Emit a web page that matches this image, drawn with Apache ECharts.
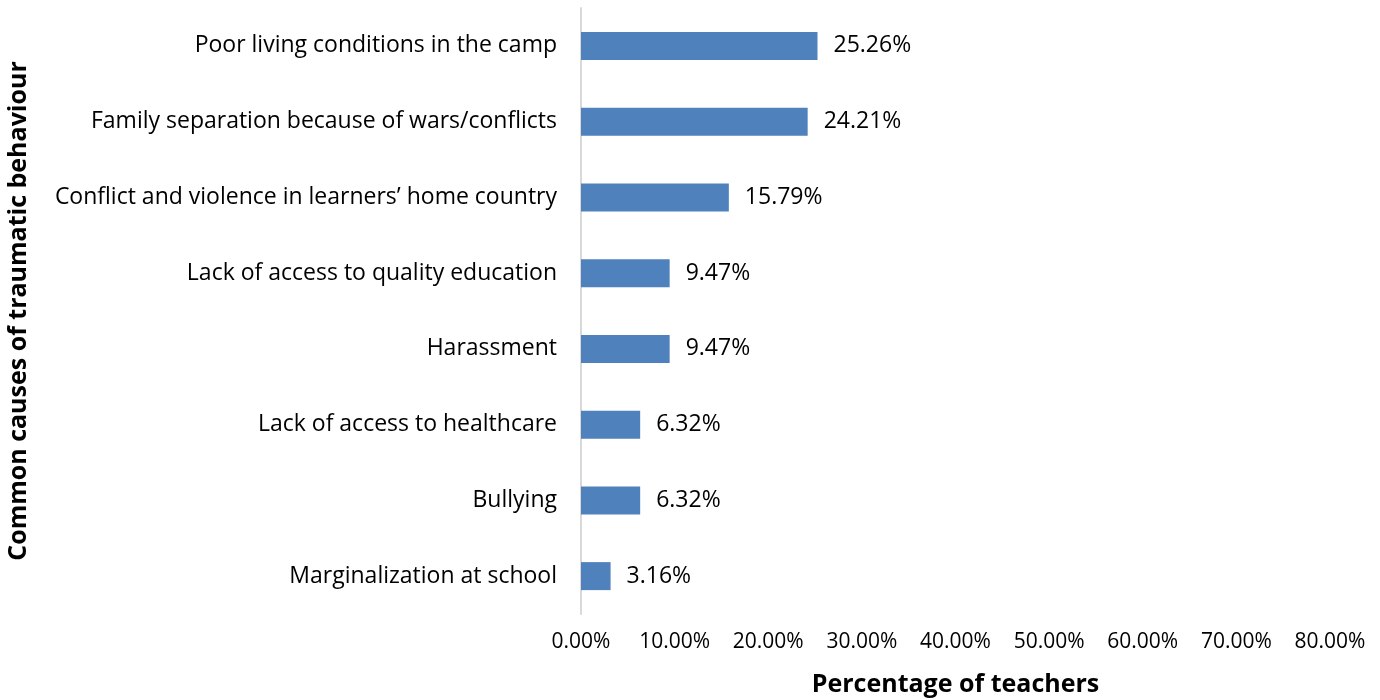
<!DOCTYPE html>
<html>
<head>
<meta charset="utf-8">
<script src="https://cdn.jsdelivr.net/npm/echarts@6/dist/echarts.min.js"></script>
<style>
  html, body { margin: 0; padding: 0; background: #fff; }
  #chart { width: 1380px; height: 700px; }
</style>
</head>
<body>
<div id="chart"></div>
<script>
// Causes, listed bottom to top as drawn on the category axis
const categories = [
  'Marginalization at school',
  'Bullying',
  'Lack of access to healthcare',
  'Harassment',
  'Lack of access to quality education',
  'Conflict and violence in learners\u2019 home country',
  'Family separation because of wars/conflicts',
  'Poor living conditions in the camp'
];
const percentages = [3.16, 6.32, 6.32, 9.47, 9.47, 15.79, 24.21, 25.26];
const xTicks = { min: 0, max: 80, step: 10 };

const labelFont = '"Open Sans", sans-serif';
const titleFont = '"Open Sans", sans-serif';

const chart = echarts.init(document.getElementById('chart'), null, { renderer: 'canvas' });
chart.setOption({
  animation: false,
  grid: { left: 581, right: 50, top: 8, bottom: 86, containLabel: false, outerBoundsMode: 'none' },
  xAxis: {
    type: 'value',
    min: xTicks.min,
    max: xTicks.max,
    interval: xTicks.step,
    name: 'Percentage of teachers',
    nameLocation: 'middle',
    nameGap: 58,
    nameTextStyle: { fontFamily: titleFont, fontWeight: 'bold', fontSize: 25, color: '#000' },
    axisLine: { show: false },
    axisTick: { show: false },
    splitLine: { show: false },
    axisLabel: {
      fontFamily: labelFont, fontSize: 21, color: '#000', margin: 18,
      formatter: v => v.toFixed(2) + '%'
    }
  },
  yAxis: {
    type: 'category',
    data: categories,
    name: 'Common causes of traumatic behaviour',
    nameLocation: 'middle',
    nameGap: 550,
    nameRotate: 90,
    nameTextStyle: { fontFamily: titleFont, fontWeight: 'bold', fontSize: 25, color: '#000' },
    axisLine: { show: true, lineStyle: { color: '#d9d9d9', width: 2 } },
    axisTick: { show: false },
    axisLabel: { fontFamily: labelFont, fontSize: 23, color: '#000', margin: 24 }
  },
  series: [{
    type: 'bar',
    data: percentages,
    barWidth: 28,
    itemStyle: { color: '#4f81bd' },
    label: {
      show: true,
      position: 'right',
      distance: 16,
      fontFamily: labelFont,
      fontSize: 23,
      color: '#000',
      formatter: p => p.value.toFixed(2) + '%'
    }
  }]
});
</script>
</body>
</html>
